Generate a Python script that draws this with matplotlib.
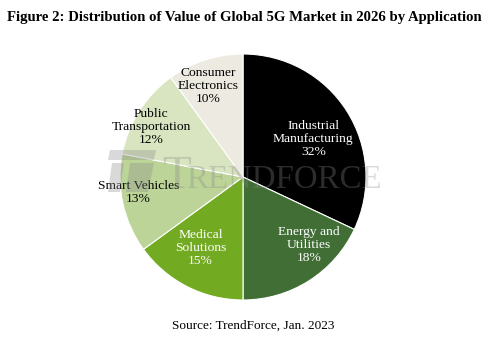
import matplotlib
matplotlib.use("Agg")
import matplotlib.pyplot as plt
from matplotlib.patches import Polygon
import numpy as np

categories = ["Industrial\nManufacturing", "Energy and\nUtilities", "Medical\nSolutions",
              "Smart Vehicles", "Public\nTransportation", "Consumer\nElectronics"]
values = [32, 18, 15, 13, 12, 10]
colors = ["#000000", "#406e35", "#72aa22", "#bcd498", "#d8e5c0", "#edebe1"]
text_colors = ["white", "white", "white", "black", "black", "black"]

# label placement: (radius fraction, angle tweak in degrees)
label_pos = [(0.65, -4), (0.77, 12), (0.67, -4), (0.86, -4), (0.85, 4), (0.79, 3)]

plt.rcParams['font.family'] = ['Liberation Serif', 'DejaVu Serif']

W, H = 497, 357
fig = plt.figure(figsize=(W / 100, H / 100), dpi=100)
ax = fig.add_axes([(243 - 123) / W, (H - 177 - 123) / H, 246 / W, 246 / H])
wedges, _ = ax.pie(values, colors=colors, startangle=90, counterclock=False,
                   wedgeprops=dict(linewidth=0.8, edgecolor="white"))
ax.set_xlim(-1, 1)
ax.set_ylim(-1, 1)
ax.set_aspect("equal")
ax.axis("off")

for w, lab, v, tc, (rf, dt) in zip(wedges, categories, values, text_colors, label_pos):
    ang = np.deg2rad((w.theta1 + w.theta2) / 2 + dt)
    ax.text(rf * np.cos(ang), rf * np.sin(ang), f"{lab}\n{v}%", ha="center", va="center",
            color=tc, fontsize=9.7, linespacing=1.12, zorder=5)

# watermark (TrendForce logo + small-caps wordmark)
wm_color = "#8a8a8a"
wm_alpha = 0.32
def px(x, y):
    return (x / W, 1 - y / H)
fig.patches.append(Polygon([px(110, 150), px(156, 150), px(154, 160), px(108, 160)],
                           closed=True, transform=fig.transFigure, color=wm_color,
                           alpha=wm_alpha, lw=0, zorder=10))
fig.patches.append(Polygon([px(112, 163), px(124, 163), px(120, 192), px(108, 192)],
                           closed=True, transform=fig.transFigure, color=wm_color,
                           alpha=wm_alpha, lw=0, zorder=10))
fig.patches.append(Polygon([px(130, 163), px(154, 163), px(148, 192), px(126, 192)],
                           closed=True, transform=fig.transFigure, color=wm_color,
                           alpha=wm_alpha, lw=0, zorder=10))
fig.text(162 / W, 1 - 188 / H, "T", ha="left", va="baseline", fontsize=34,
         color=wm_color, alpha=wm_alpha, zorder=10)
fig.text(186 / W, 1 - 188 / H, "RENDFORCE", ha="left", va="baseline", fontsize=23.7,
         color=wm_color, alpha=wm_alpha, zorder=10)

fig.text(0.492, 1 - 18 / H, "Figure 2: Distribution of Value of Global 5G Market in 2026 by Application",
         ha="center", va="center", fontsize=10.6, fontweight="bold")
fig.text(253 / W, 1 - 326 / H, "Source: TrendForce, Jan. 2023", ha="center", va="center", fontsize=9.5)

fig.savefig("out.png", dpi=100)
